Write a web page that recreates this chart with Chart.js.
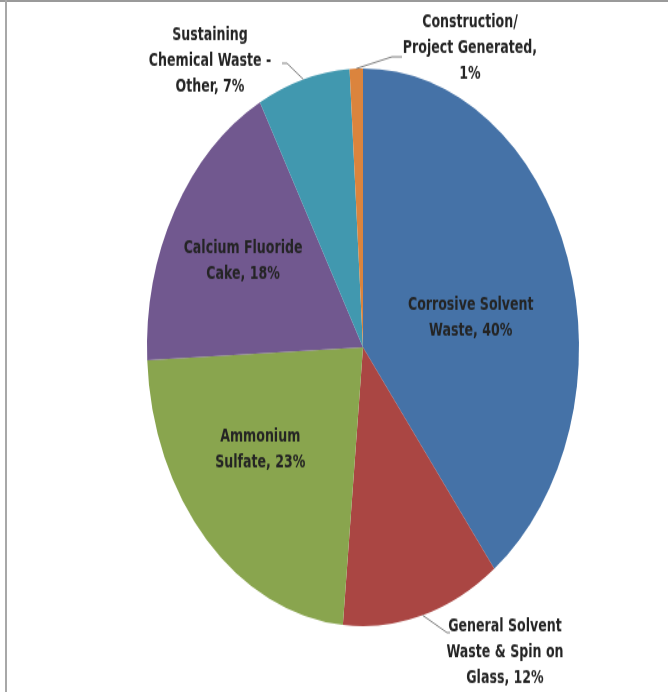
<!DOCTYPE html>
<html>
<head>
<meta charset="utf-8">
<script src="https://cdn.jsdelivr.net/npm/chart.js@4/dist/chart.umd.min.js"></script>
<style>
  html, body { margin: 0; padding: 0; background: #fff; }
  body { width: 668px; height: 692px; position: relative; overflow: hidden; }
  #frameTop { position: absolute; left: 0; top: 0; width: 668px; height: 2px; background: #9a9a9a; }
  #frameLeft { position: absolute; left: 5px; top: 0; width: 2px; height: 692px; background: #a8a8a8; }
  /* the chart is drawn at 668x536 and stretched to the full page height */
  #wrap { position: absolute; left: 0; top: 0; width: 668px; height: 536px;
          transform: scaleY(1.291); transform-origin: 0 0; }
</style>
</head>
<body>
<div id="wrap"><canvas id="pie"></canvas></div>
<div id="frameTop"></div>
<div id="frameLeft"></div>
<script>
// waste stream shares, percent
const categories = [
  'Corrosive Solvent Waste',
  'General Solvent Waste & Spin on Glass',
  'Ammonium Sulfate',
  'Calcium Fluoride Cake',
  'Sustaining Chemical Waste - Other',
  'Construction/ Project Generated'
];
const shares = [40, 12, 23, 18, 7, 1];
const colors = ['#4572A7', '#AA4643', '#89A54E', '#71588F', '#4198AF', '#DB843D'];

// label layout: words per line, and where each label block sits
const wrapWords = [[2, 2], [2, 4, 2], [1, 2], [2, 2], [1, 3, 2], [1, 2, 1]];
const placement = [
  { inside: true, k: 0.6, dx: -15, dy: 19 },
  { inside: false, cx: 142, cy: 236, leader: [[84, 221], [87, 221]] },
  { inside: true, k: 0.6, dx: -9, dy: -10 },
  { inside: true, k: 0.6, dx: -7, dy: -3 },
  { inside: false, cx: -153, cy: -222, leader: [[-76, -220], [-81, -220]] },
  { inside: false, cx: 107, cy: -231.5, leader: [[29, -225], [39, -225]] }
];
const FONT = 'bold 14px "Liberation Sans Narrow", "DejaVu Sans Condensed", "Liberation Sans", sans-serif';
const LINE_H = 20;

function labelLines(i) {
  const words = (categories[i] + ', ' + shares[i] + '%').split(' ');
  const out = [];
  let pos = 0;
  wrapWords[i].forEach(n => { out.push(words.slice(pos, pos + n).join(' ')); pos += n; });
  return out;
}

const sliceLabels = {
  id: 'sliceLabels',
  afterDatasetsDraw(chart) {
    const ctx = chart.ctx;
    const meta = chart.getDatasetMeta(0);
    ctx.save();
    ctx.font = FONT;
    ctx.fillStyle = '#242424';
    ctx.textAlign = 'center';
    ctx.textBaseline = 'middle';
    meta.data.forEach((arc, i) => {
      const p = arc.getProps(['x', 'y', 'startAngle', 'endAngle', 'outerRadius'], true);
      const mid = (p.startAngle + p.endAngle) / 2;
      const ux = Math.cos(mid), uy = Math.sin(mid);
      const pl = placement[i];
      let bx, by;
      if (pl.inside) {
        bx = p.x + ux * p.outerRadius * pl.k + pl.dx;
        by = p.y + uy * p.outerRadius * pl.k + pl.dy;
      } else {
        bx = p.x + pl.cx;
        by = p.y + pl.cy;
        ctx.beginPath();
        ctx.strokeStyle = '#7f7f7f';
        ctx.lineWidth = 1;
        ctx.moveTo(p.x + ux * p.outerRadius, p.y + uy * p.outerRadius);
        pl.leader.forEach(q => ctx.lineTo(p.x + q[0], p.y + q[1]));
        ctx.stroke();
      }
      const lines = labelLines(i);
      lines.forEach((t, j) => {
        ctx.fillText(t, bx, by + (j - (lines.length - 1) / 2) * LINE_H);
      });
    });
    ctx.restore();
  }
};

new Chart(document.getElementById('pie'), {
  type: 'pie',
  data: {
    labels: categories,
    datasets: [{
      data: shares,
      backgroundColor: colors,
      borderWidth: 0
    }]
  },
  options: {
    responsive: true,
    maintainAspectRatio: false,
    animation: false,
    layout: { padding: { left: 147, right: 89, top: 53, bottom: 51 } },
    plugins: { legend: { display: false }, tooltip: { enabled: false } }
  },
  plugins: [sliceLabels]
});
</script>
</body>
</html>
